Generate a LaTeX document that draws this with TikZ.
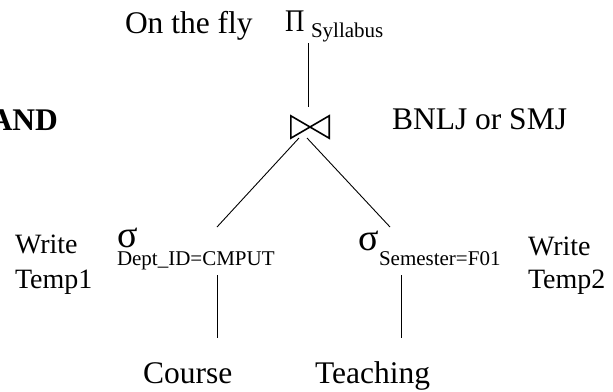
\documentclass[tikz,border=0pt]{standalone}
\usepackage{fontspec}
\setmainfont{Liberation Serif}
\begin{document}
\begin{tikzpicture}[x=1pt,y=-1pt,
  lbl/.style={inner sep=0pt,outer sep=0pt,anchor=base west,font=\fontsize{31.5}{36}\selectfont},
  side/.style={inner sep=0pt,outer sep=0pt,anchor=base west,font=\fontsize{28}{32}\selectfont},
  sig/.style={inner sep=0pt,outer sep=0pt,anchor=base west,font=\fontsize{38}{40}\selectfont},
  sub/.style={inner sep=0pt,outer sep=0pt,anchor=base west,font=\fontsize{21}{24}\selectfont},
  edge/.style={line width=0.9pt},
  bow/.style={line width=1.6pt,line join=miter}]
\useasboundingbox (0,0) rectangle (613,391);
% texts
\node[lbl] (fly) at (125,33) {On the fly};
\node[lbl,xscale=0.85] (pi) at (285,31) {Π};
\node[sub] (pisub) at (311,37.5) {Syllabus};
\node[lbl,anchor=base east,font=\fontsize{31.5}{36}\selectfont\bfseries] (and) at (58,130) {AND};
\node[lbl] (bnlj) at (392,129) {BNLJ or SMJ};
\node[side] (w1) at (15,253) {Write};
\node[side] (t1) at (15,288) {Temp1};
\node[sig] (sigL) at (117,247) {σ};
\node[sub] (subL) at (117,265) {Dept\_ID=CMPUT};
\node[sig] (sigR) at (358,250) {σ};
\node[sub] (subR) at (379,265) {Semester=F01};
\node[side] (w2) at (528,255) {Write};
\node[side] (t2) at (528,288) {Temp2};
\node[lbl] (course) at (143,383) {Course};
\node[lbl] (teach) at (315,383) {Teaching};
% join symbol
\node[minimum width=38pt,minimum height=22pt,inner sep=0pt] (join) at (310,127) {};
\draw[bow] (join.north west) -- (join.south west) -- (join.north east) -- (join.south east) -- cycle;
% connector end points
\coordinate (piB) at (308,43);
\coordinate (joinT) at (308,107);
\coordinate (joinL) at (299,138);
\coordinate (joinR) at (307,138);
\coordinate (selLT) at (217,227);
\coordinate (selRT) at (390,227);
\coordinate (selLB) at (217,275);
\coordinate (selRB) at (401,275);
\coordinate (courseT) at (217,338);
\coordinate (teachT) at (401,338);
% connectors
\draw[edge] (piB) -- (joinT);
\draw[edge] (joinL) -- (selLT);
\draw[edge] (joinR) -- (selRT);
\draw[edge] (selLB) -- (courseT);
\draw[edge] (selRB) -- (teachT);
\end{tikzpicture}
\end{document}
